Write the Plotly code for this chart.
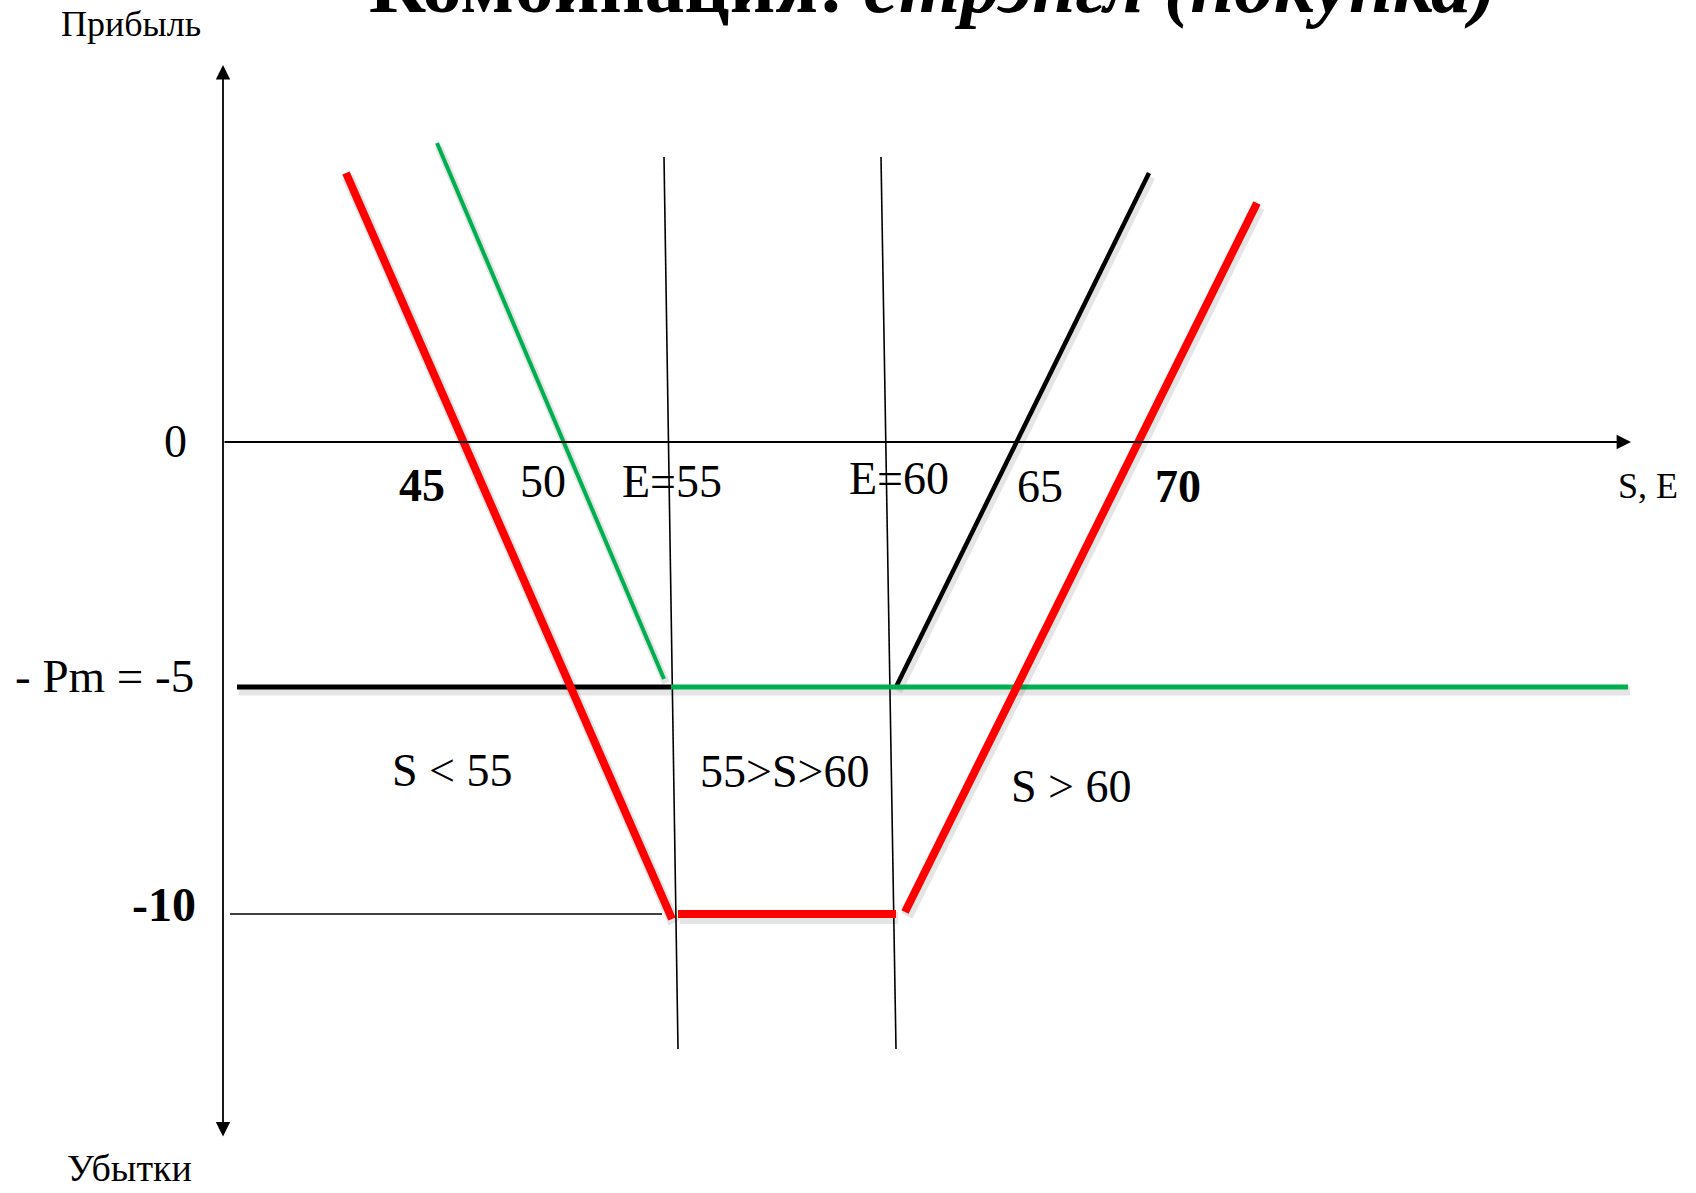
import plotly.graph_objects as go

# ---- schematic drawing coordinates (slide units: x to the right, y downward) ----
# Strangle purchase (red) = long put (green) + long call (black)
red_left_x = [346, 672]
red_left_y = [173, 919]
red_mid_x = [678, 896]
red_mid_y = [914, 914]
red_right_x = [905, 1257]
red_right_y = [912, 203]

green_slope_x = [437, 664]
green_slope_y = [143, 679]
green_flat_x = [671, 1628]
green_flat_y = [687, 687]

black_flat_x = [237, 671]
black_flat_y = [687, 687]
black_slope_x = [896, 1149]
black_slope_y = [687, 173]

strike55_x = [664, 678]
strike55_y = [157, 1049]
strike60_x = [881, 896]
strike60_y = [157, 1049]
level10_x = [230, 662]
level10_y = [914, 914]

yaxis_x = [223, 223]
yaxis_y = [65, 1138]
xaxis_x = [223, 1631]
xaxis_y = [442, 442]

# ---- labels ----
label_text = ["Прибыль", "Убытки", "0", "<b>45</b>", "50", "E=55", "E=60", "65", "<b>70</b>",
              "S, E", "- Pm = -5", "<b>-10</b>", "S &lt; 55", "55&gt;S&gt;60", "S &gt; 60"]
label_x = [131, 129, 175, 422, 543, 672, 899, 1040, 1178, 1648, 104, 164, 452, 784, 1071]
label_y = [24, 1168, 441, 485, 481, 481, 478, 486, 486, 486, 676, 904, 770, 771, 786]
label_size = [36, 38, 46, 46, 46, 46, 46, 46, 46, 36, 47, 48, 46, 46, 46]

title_text = "<b>Комбинация: <i>стрэнгл (покупка)</i></b>"
title_x = 933
title_y = 11

FONT = "Liberation Serif, Times New Roman, serif"
SHADOW = "rgba(0,0,0,0.10)"

fig = go.Figure()


def seg(x, y, color, width, shadow=False):
    if shadow:
        fig.add_trace(go.Scatter(x=[v + 2 for v in x], y=[v + 4 for v in y], mode="lines",
                                 line=dict(color=SHADOW, width=width + 4),
                                 hoverinfo="skip", showlegend=False))
    fig.add_trace(go.Scatter(x=x, y=y, mode="lines", line=dict(color=color, width=width),
                             hoverinfo="skip", showlegend=False))


# thin guide lines
seg(strike55_x, strike55_y, "black", 1.6)
seg(strike60_x, strike60_y, "black", 1.6)
seg(level10_x, level10_y, "black", 1.6)

# payoff lines
seg(black_flat_x, black_flat_y, "black", 5, True)
seg(black_slope_x, black_slope_y, "black", 4.5, True)
seg(green_slope_x, green_slope_y, "#00b050", 4, True)
seg(green_flat_x, green_flat_y, "#00b050", 5, True)
seg(red_left_x, red_left_y, "#ff0000", 8, True)
seg(red_mid_x, red_mid_y, "#ff0000", 8, True)
seg(red_right_x, red_right_y, "#ff0000", 8, True)

annotations = []
# axes with arrows
annotations.append(dict(x=yaxis_x[0], y=yaxis_y[0], ax=yaxis_x[1], ay=yaxis_y[1],
                        xref="x", yref="y", axref="x", ayref="y", text="",
                        showarrow=True, arrowhead=2, arrowside="end+start",
                        arrowwidth=1.8, arrowsize=1.6, arrowcolor="black"))
annotations.append(dict(x=xaxis_x[1], y=xaxis_y[1], ax=xaxis_x[0], ay=xaxis_y[0],
                        xref="x", yref="y", axref="x", ayref="y", text="",
                        showarrow=True, arrowhead=2, arrowside="end",
                        arrowwidth=1.8, arrowsize=1.6, arrowcolor="black"))

for t, x, y, s in zip(label_text, label_x, label_y, label_size):
    annotations.append(dict(x=x, y=y, xref="x", yref="y", text=t, showarrow=False,
                            xanchor="center", yanchor="middle",
                            font=dict(family=FONT, size=s, color="black")))

annotations.append(dict(x=title_x, y=title_y, xref="x", yref="y", text=title_text,
                        showarrow=False, xanchor="center", yanchor="bottom", yshift=-20,
                        font=dict(family=FONT, size=79, color="black")))

fig.update_layout(
    width=1696, height=1193,
    margin=dict(l=0, r=0, t=0, b=0),
    paper_bgcolor="white", plot_bgcolor="white",
    xaxis=dict(range=[0, 1696], visible=False, fixedrange=True),
    yaxis=dict(range=[1193, 0], visible=False, fixedrange=True),
    annotations=annotations,
    showlegend=False,
)

fig.write_html("out.html", config={"displayModeBar": False},
               post_script="document.body.style.margin='0';document.body.style.overflow='hidden';")
